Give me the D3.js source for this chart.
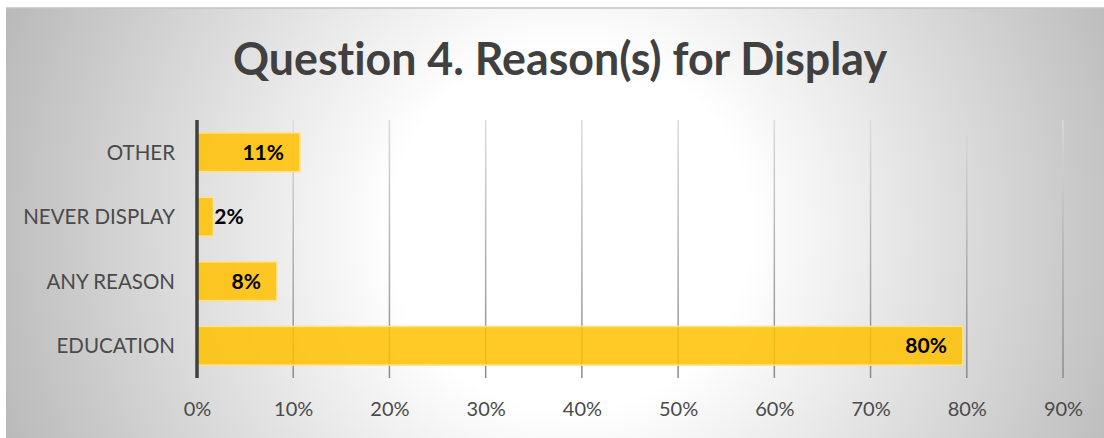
<!DOCTYPE html>
<html>
<head>
<meta charset="utf-8">
<script src="https://cdn.jsdelivr.net/npm/d3@7"></script>
<style>
  html, body { margin: 0; padding: 0; background: #ffffff; }
  svg { display: block; }
  text { font-family: Lato, "Open Sans", sans-serif; font-variant-ligatures: none; font-feature-settings: "liga" 0, "clig" 0; }
</style>
</head>
<body>
<svg id="chart" width="1104" height="438"></svg>
<script>
// Survey results: share of respondents per reason
const categories = ["OTHER", "NEVER DISPLAY", "ANY REASON", "EDUCATION"];
const shares = [0.107, 0.017, 0.083, 0.796];
const tickValues = [0, 0.1, 0.2, 0.3, 0.4, 0.5, 0.6, 0.7, 0.8, 0.9];
const titleText = "Question 4. Reason(s) for Display";

const W = 1104, H = 438;
const plot = { left: 197, right: 1063, top: 120, bottom: 378 };

const svg = d3.select("#chart");
const defs = svg.append("defs");

// Radial grey-to-white backdrop
const bg = defs.append("radialGradient")
  .attr("id", "bgGrad")
  .attr("gradientUnits", "userSpaceOnUse")
  .attr("cx", 570).attr("cy", 230).attr("r", 600);
bg.append("stop").attr("offset", 0).attr("stop-color", "#ffffff");
bg.append("stop").attr("offset", 0.3).attr("stop-color", "#ffffff");
bg.append("stop").attr("offset", 1).attr("stop-color", "#bababa");

// Gridlines fade from light at the top to darker at the bottom
const gg = defs.append("linearGradient")
  .attr("id", "gridGrad")
  .attr("gradientUnits", "userSpaceOnUse")
  .attr("x1", 0).attr("y1", plot.top).attr("x2", 0).attr("y2", plot.bottom);
gg.append("stop").attr("offset", 0).attr("stop-color", "#dcdcdc");
gg.append("stop").attr("offset", 1).attr("stop-color", "#8a8a8a");

svg.append("rect")
  .attr("x", 6).attr("y", 8)
  .attr("width", W - 6).attr("height", H - 8)
  .attr("fill", "url(#bgGrad)");
svg.append("line")
  .attr("x1", 6).attr("x2", W).attr("y1", 8).attr("y2", 8)
  .attr("stroke", "#c4c4c4").attr("stroke-width", 1.5);

// Title, fitted to its width
const title = svg.append("text")
  .attr("x", 560).attr("y", 75)
  .attr("text-anchor", "middle")
  .attr("font-weight", 700)
  .attr("font-size", 45)
  .attr("fill", "#404040")
  .text(titleText);
const tw = title.node().getComputedTextLength();
if (Math.abs(tw - 654) > 4) title.attr("textLength", 654).attr("lengthAdjust", "spacingAndGlyphs");

const x = d3.scaleLinear().domain([0, 0.9]).range([plot.left, plot.right]);
const y = d3.scaleBand().domain(categories)
  .range([plot.top, plot.bottom])
  .paddingInner(0.4).paddingOuter(0.2);

// Vertical gridlines
svg.append("g").selectAll("line")
  .data(tickValues.filter(d => d > 0))
  .join("line")
  .attr("x1", d => x(d)).attr("x2", d => x(d))
  .attr("y1", plot.top).attr("y2", plot.bottom)
  .attr("stroke", "url(#gridGrad)")
  .attr("stroke-width", 1.5);

// Bars
const data = categories.map((c, i) => ({ cat: c, v: shares[i] }));
svg.append("g").selectAll("rect")
  .data(data)
  .join("rect")
  .attr("x", x(0))
  .attr("y", d => y(d.cat))
  .attr("width", d => x(d.v) - x(0))
  .attr("height", y.bandwidth())
  .attr("fill", "#ffbf00")
  .attr("fill-opacity", 0.85)
  .attr("stroke", "#ffe28a")
  .attr("stroke-width", 1.5);

// Value axis labels
const xAxis = d3.axisBottom(x)
  .tickValues(tickValues)
  .tickFormat(d3.format(".0%"))
  .tickSize(0)
  .tickPadding(0);
const gx = svg.append("g")
  .attr("transform", `translate(0,${plot.bottom})`)
  .call(xAxis);
gx.select(".domain").remove();
gx.selectAll("text")
  .attr("dy", null)
  .attr("y", 38)
  .attr("font-family", "Lato, 'Open Sans', sans-serif")
  .attr("font-size", 20)
  .attr("fill", "#4a4a4a");

// Category axis labels
const yAxis = d3.axisLeft(y).tickSize(0).tickPadding(0);
const gy = svg.append("g")
  .attr("transform", `translate(${plot.left},0)`)
  .call(yAxis);
gy.select(".domain").remove();
gy.selectAll("text")
  .attr("x", -22)
  .attr("dy", "0.36em")
  .attr("font-family", "Lato, 'Open Sans', sans-serif")
  .attr("font-size", 20.5)
  .attr("fill", "#4a4a4a");

// Category axis line
svg.append("line")
  .attr("x1", plot.left).attr("x2", plot.left)
  .attr("y1", plot.top).attr("y2", plot.bottom)
  .attr("stroke", "#404040").attr("stroke-width", 3.5);

// Value labels at the bar ends
const fmt = d3.format(".0%");
svg.append("g").selectAll("text")
  .data(data)
  .join("text")
  .attr("y", d => y(d.cat) + y.bandwidth() / 2)
  .attr("dy", "0.36em")
  .attr("font-weight", 700)
  .attr("font-size", 21)
  .attr("fill", "#000000")
  .text(d => fmt(d.v))
  .each(function (d) {
    const t = d3.select(this);
    const w = this.getComputedTextLength();
    const barW = x(d.v) - x(0);
    if (barW - 16 > w + 6) {
      t.attr("x", x(d.v) - 16).attr("text-anchor", "end");
    } else {
      t.attr("x", x(d.v) + 1).attr("text-anchor", "start");
    }
  });
</script>
</body>
</html>
